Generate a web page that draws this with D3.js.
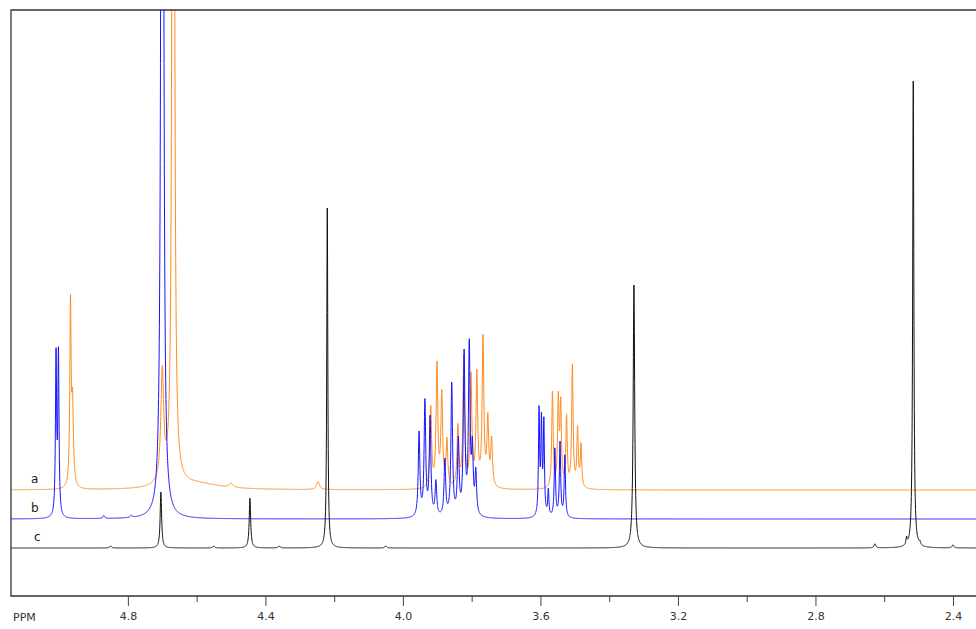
<!DOCTYPE html>
<html>
<head>
<meta charset="utf-8">
<script src="https://cdn.jsdelivr.net/npm/d3@7"></script>
<style>
	body { margin: 0; background: #fff; }
	svg { display: block; }
	.axis text { font-family: "DejaVu Sans", sans-serif; font-size: 11px; fill: #333; }
	.axis line { stroke: #444; }
</style>
</head>
<body>
<div id="nmrVis"></div>
<script>
// peaks: [ppm, height above own baseline, half width (ppm)]
var peaksA = [
	[4.967, 180, 0.0022],
	[4.961, 80, 0.003],
	[4.700, 110, 0.005],
	[4.668, 2500, 0.00224],
	[4.600, 6, 0.08],
	[4.500, 4, 0.006],
	[4.247, 8, 0.005],
	[3.919, 80, 0.003],
	[3.901, 122, 0.003],
	[3.887, 92, 0.003],
	[3.872, 46, 0.003],
	[3.840, 60, 0.003],
	[3.823, 130, 0.003],
	[3.802, 110, 0.003],
	[3.785, 112, 0.003],
	[3.767, 148, 0.003],
	[3.753, 66, 0.003],
	[3.742, 46, 0.003],
	[3.565, 96, 0.0025],
	[3.548, 86, 0.0025],
	[3.541, 80, 0.0025],
	[3.524, 70, 0.0025],
	[3.507, 122, 0.0025],
	[3.492, 58, 0.0025],
	[3.482, 42, 0.0025]
];

var peaksB = [
	[5.009, 160, 0.002],
	[5.002, 160, 0.002],
	[4.870, 3, 0.003],
	[4.790, 2, 0.003],
	[4.700, 3000, 0.0022],
	[3.953, 84, 0.0028],
	[3.936, 114, 0.0028],
	[3.921, 98, 0.0028],
	[3.904, 34, 0.0028],
	[3.878, 56, 0.0028],
	[3.858, 132, 0.0028],
	[3.839, 74, 0.0028],
	[3.822, 160, 0.0028],
	[3.807, 168, 0.0028],
	[3.798, 62, 0.0028],
	[3.788, 42, 0.0028],
	[3.604, 104, 0.002],
	[3.597, 92, 0.002],
	[3.590, 92, 0.002],
	[3.577, 26, 0.002],
	[3.558, 68, 0.0022],
	[3.543, 75, 0.0022],
	[3.529, 62, 0.0022]
];

var peaksC = [
	[4.850, 2, 0.003],
	[4.704, 56, 0.0025],
	[4.550, 2, 0.003],
	[4.445, 50, 0.0025],
	[4.360, 2, 0.003],
	[4.220, 340, 0.0018],
	[4.050, 2, 0.003],
	[3.328, 263, 0.0026],
	[2.627, 4, 0.003],
	[2.535, 7, 0.002],
	[2.5155, 468, 0.002],
	[2.496, 3, 0.002],
	[2.400, 3, 0.003]
];

var traceNames = ["a", "b", "c"];
var traceColors = ["#ff8c1e", "#1414ff", "#111111"];
var traceOffsets = [58, 29, 0];

var majorTicks = [4.8, 4.4, 4.0, 3.6, 3.2, 2.8, 2.4];
var minorTicks = [4.6, 4.2, 3.8, 3.4, 3.0, 2.6];

function nmrChart() {
	//size of area
	var width = 976;
	var height = 629;

	var left = 11, top = 10, bottom = 596;

	var x = d3.scaleLinear().domain([5.14, 2.333]).range([left, width]);
	var y = d3.scaleLinear().domain([-48, 538]).range([bottom, top]);

	// lorentzian sum of one peak list
	function spectrum(peaks) {
		var pts = [];
		var step = 0.0004;
		for (var p = x.domain()[0]; p >= x.domain()[1]; p -= step) {
			var s = 0;
			peaks.forEach(function(k) {
				var d = (p - k[0]) / k[2];
				s += k[1] / (1 + d * d);
			});
			pts.push([p, s]);
		}
		return pts;
	}

	var svg = d3.select("#nmrVis")
		.append("svg")
		.attr("width", width)
		.attr("height", height);

	svg.append("clipPath").attr("id", "plotClip")
		.append("rect")
		.attr("x", left).attr("y", top)
		.attr("width", width - left).attr("height", bottom - top);

	var plot = svg.append("g").attr("clip-path", "url(#plotClip)");

	var allPeaks = [peaksA, peaksB, peaksC];

	allPeaks.forEach(function(peaks, i) {
		var line = d3.line()
			.x(function(d) { return x(d[0]); })
			.y(function(d) { return y(d[1] + traceOffsets[i]); });

		plot.append("path")
			.datum(spectrum(peaks))
			.attr("fill", "none")
			.attr("stroke", traceColors[i])
			.attr("stroke-width", 1)
			.attr("d", line);
	});

	// trace labels
	svg.selectAll(".tlabel")
		.data(traceNames)
		.enter().append("text")
		.attr("class", "tlabel")
		.attr("x", function(d, i) { return i == 2 ? 34 : 31; })
		.attr("y", function(d, i) { return y(traceOffsets[i]) - 7; })
		.attr("font-family", "DejaVu Sans, sans-serif")
		.attr("font-size", "12px")
		.attr("fill", "#222")
		.text(function(d) { return d; });

	//frame
	svg.append("path")
		.attr("d", "M" + width + "," + top + "H" + left + "V" + bottom + "H" + width)
		.attr("fill", "none")
		.attr("stroke", "#333")
		.attr("stroke-width", 1.3);

	var majorAxis = d3.axisBottom(x)
		.tickValues(majorTicks)
		.tickSize(10)
		.tickPadding(6)
		.tickFormat(d3.format(".1f"));

	var minorAxis = d3.axisBottom(x)
		.tickValues(minorTicks)
		.tickSize(6)
		.tickFormat("");

	var gMajor = svg.append("g").attr("class", "axis")
		.attr("transform", "translate(0," + bottom + ")")
		.call(majorAxis);
	gMajor.select(".domain").remove();

	var gMinor = svg.append("g").attr("class", "axis")
		.attr("transform", "translate(0," + bottom + ")")
		.call(minorAxis);
	gMinor.select(".domain").remove();

	svg.append("text")
		.attr("x", 13)
		.attr("y", 621)
		.attr("font-family", "DejaVu Sans, sans-serif")
		.attr("font-size", "11px")
		.attr("fill", "#333")
		.text("PPM");
}

nmrChart();
</script>
</body>
</html>
